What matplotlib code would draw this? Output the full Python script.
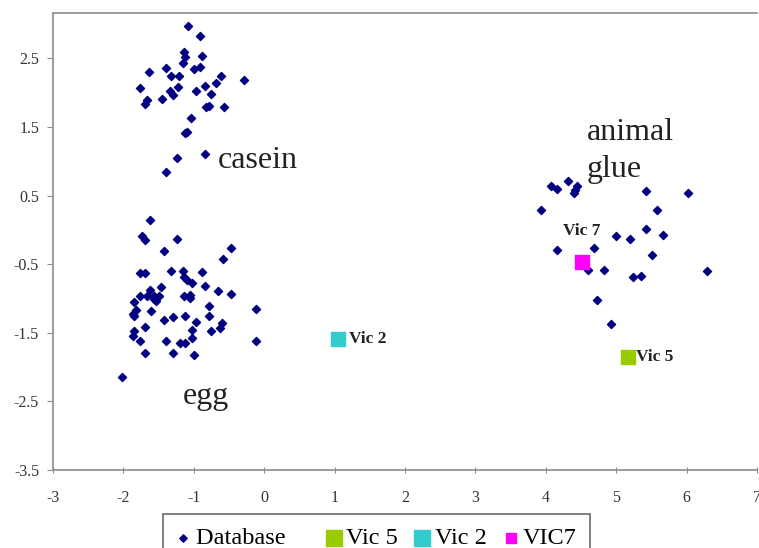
import numpy as np
import matplotlib.pyplot as plt

# database samples
casein_x = [-1.08, -0.91, -1.14, -1.12, -0.88, -1.16, -1.40, -1.64, -0.99, -0.91,
            -1.33, -1.21, -0.61, -0.28, -1.77, -0.84, -0.69, -1.23, -1.34, -1.29,
            -0.97, -0.75, -1.45, -1.67, -1.69, -0.82, -0.78, -0.57, -1.04, -1.13,
            -1.10, -0.84, -1.24, -1.40]
casein_y = [2.97, 2.83, 2.59, 2.52, 2.54, 2.43, 2.36, 2.30, 2.35, 2.37,
            2.24, 2.24, 2.24, 2.19, 2.07, 2.10, 2.14, 2.08, 2.02, 1.97,
            2.02, 1.98, 1.91, 1.89, 1.83, 1.79, 1.80, 1.79, 1.63, 1.41,
            1.42, 1.11, 1.04, 0.85]

egg_x = [-1.62, -1.74, -1.69, -1.24, -1.42, -0.47, -0.59, -1.76, -1.70, -1.33,
         -1.16, -0.88, -1.14, -1.10, -1.03, -0.84, -1.47, -1.62, -0.66, -0.47,
         -1.77, -1.67, -1.56, -1.49, -1.14, -1.05, -1.06, -1.54, -1.85, -1.56,
         -0.78, -0.12, -1.82, -1.61, -1.87, -1.85, -0.78, -1.29, -1.12, -1.43,
         -0.97, -1.70, -0.60, -0.63, -0.76, -1.02, -1.85, -1.87, -1.77, -1.40,
         -1.03, -1.20, -1.12, -0.12, -1.70, -1.29, -0.99, -2.02]
egg_y = [0.14, -0.09, -0.15, -0.14, -0.31, -0.27, -0.43, -0.63, -0.63, -0.60,
         -0.60, -0.62, -0.68, -0.73, -0.78, -0.82, -0.84, -0.87, -0.89, -0.93,
         -0.96, -0.96, -0.97, -0.96, -0.97, -0.95, -1.00, -1.04, -1.05, -1.01,
         -1.11, -1.15, -1.17, -1.18, -1.23, -1.26, -1.25, -1.27, -1.25, -1.32,
         -1.34, -1.42, -1.36, -1.43, -1.47, -1.46, -1.47, -1.55, -1.62, -1.62,
         -1.58, -1.65, -1.65, -1.62, -1.79, -1.79, -1.82, -2.14]

glue_x = [4.07, 4.16, 4.31, 4.44, 4.40, 4.42, 5.43, 6.02, 3.93, 5.58,
          5.43, 5.66, 4.99, 5.20, 4.16, 4.69, 5.51, 4.60, 4.83, 5.24,
          5.35, 6.29, 4.72, 4.93]
glue_y = [0.64, 0.59, 0.71, 0.64, 0.54, 0.58, 0.56, 0.53, 0.29, 0.29,
          0.01, -0.07, -0.09, -0.14, -0.29, -0.27, -0.37, -0.59, -0.59, -0.68,
          -0.67, -0.60, -1.02, -1.37]

db_x = casein_x + egg_x + glue_x
db_y = casein_y + egg_y + glue_y

# unknown samples
vic5 = (5.17, -1.85)
vic2 = (1.05, -1.59)
vic7 = (4.52, -0.47)

serif = 'Liberation Serif'
plt.rcParams['axes.unicode_minus'] = False

fig = plt.figure(figsize=(7.59, 5.48), dpi=100)
ax = fig.add_axes([0.0698, 0.1423, 0.9276, 0.834])

ax.scatter(db_x, db_y, marker='D', s=17, color='#000080', label='Database    ', zorder=3)
ax.scatter([vic5[0]], [vic5[1]], marker='s', s=110, color='#99CC00', label='Vic 5', zorder=3)
ax.scatter([vic2[0]], [vic2[1]], marker='s', s=110, color='#33CCCC', label='Vic 2', zorder=3)
ax.scatter([vic7[0]], [vic7[1]], marker='s', s=110, color='#FF00FF', label='VIC7', zorder=3)

# point labels
bold = dict(family=serif, fontsize=12.5, fontweight='bold', color='#222222', va='center')
ax.text(1.20, -1.59, 'Vic 2', **bold)
ax.text(5.28, -1.85, 'Vic 5', **bold)
ax.text(4.24, -0.02, 'Vic 7', **bold)

# cluster names
big = dict(family=serif, fontsize=23, color='#222222', va='baseline', ha='left')
ax.text(-0.66, 0.90, 'casein', **big)
ax.text(-1.15, -2.54, 'egg', **big)
ax.text(4.58, 1.31, 'animal', **big)
ax.text(4.58, 0.77, 'glue', **big)

ax.set_xlim(-3, 7)
ax.set_ylim(-3.5, 3.16)
ax.set_xticks(np.arange(-3, 8, 1))
ax.set_yticks(np.arange(-3.5, 3.0, 1))
ax.set_yticklabels([f'{v:g}' for v in np.arange(-3.5, 3.0, 1)])

ax.spines['right'].set_visible(False)
for side in ['left', 'bottom', 'top']:
    ax.spines[side].set_color('#8c8c8c')
    ax.spines[side].set_linewidth(1.2)
ax.tick_params(axis='x', direction='inout', length=5, color='#8c8c8c', pad=12)
ax.tick_params(axis='y', direction='out', length=4, color='#8c8c8c', pad=6)
for lab in ax.get_xticklabels() + ax.get_yticklabels():
    lab.set_family(serif)
    lab.set_fontsize(11.5)
    lab.set_color('#333333')

leg = fig.legend(loc='upper left', bbox_to_anchor=(0.2145, 0.062), ncol=4,
                 prop={'family': serif, 'size': 17.5}, frameon=True, fancybox=False,
                 edgecolor='#444444', handletextpad=0.2, columnspacing=0.7,
                 handlelength=0.6, borderpad=0.55, borderaxespad=0,
                 scatterpoints=1)
leg.get_frame().set_linewidth(1.2)
for h, sz in zip(leg.legend_handles, [14, 130, 130, 55]):
    h.set_sizes([sz])

fig.savefig('out.png', dpi=100)
